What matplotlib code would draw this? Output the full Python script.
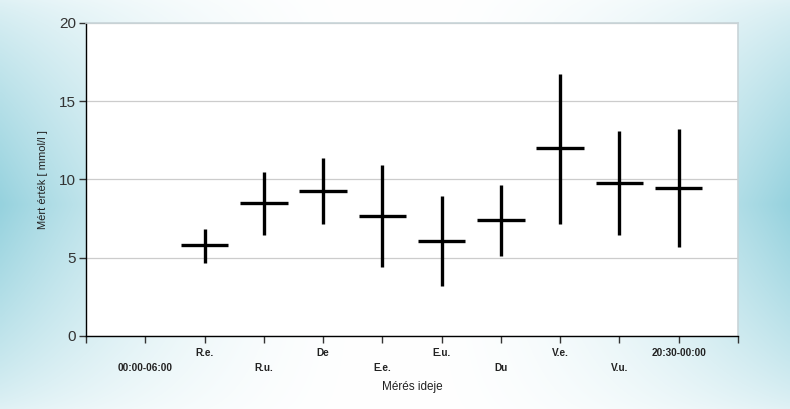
import numpy as np
import matplotlib
matplotlib.use("Agg")
import matplotlib.pyplot as plt

plt.rcParams['font.family'] = ['Liberation Sans', 'DejaVu Sans']

# Adatok
categories = ["00:00-06:00", "R.e.", "R.u.", "De", "E.e.", "E.u.", "Du", "V.e.", "V.u.", "20:30-00:00"]
means = [None, 5.8, 8.5, 9.25, 7.65, 6.05, 7.4, 12.0, 9.75, 9.45]
lows = [None, 4.68, 6.45, 7.15, 4.4, 3.2, 5.1, 7.15, 6.45, 5.7]
highs = [None, 6.85, 10.45, 11.35, 10.95, 8.95, 9.67, 16.75, 13.1, 13.25]

fig = plt.figure(figsize=(7.9, 4.09), dpi=100)

# háttér színátmenet
bg = fig.add_axes([0, 0, 1, 1], zorder=-1)
bg.set_axis_off()
xx, yy = np.meshgrid(np.linspace(0, 1, 400), np.linspace(0, 1, 200))
h = np.abs(xx - 0.5) * 2
v = np.clip(1 - np.abs(yy - 0.5) * 2.0, 0, 1) ** 0.8
w = (h ** 2.0) * (0.3 + 0.7 * v)
white = np.array([1.0, 1.0, 1.0])
cyan = np.array([150, 210, 222]) / 255
img = white[None, None, :] - (white - cyan)[None, None, :] * w[..., None]
bg.imshow(img, aspect='auto', extent=[0, 1, 0, 1], interpolation='bilinear')

ax = fig.add_axes([0.1089, 0.1785, 0.8253, 0.7653])
ax.set_facecolor('white')

for i, cat in enumerate(categories):
    if means[i] is None:
        continue
    x = i + 1
    ax.plot([x, x], [lows[i], highs[i]], color='black', lw=2.4, solid_capstyle='butt', zorder=3)
    ax.plot([x - 0.4, x + 0.4], [means[i], means[i]], color='black', lw=2.4, solid_capstyle='butt', zorder=3)

ax.set_xlim(0, 11)
ax.set_ylim(0, 20)
ax.set_yticks([0, 5, 10, 15, 20])
ax.yaxis.grid(True, color='#cccccc', lw=0.9)
ax.set_axisbelow(True)

ax.set_xticks(range(12), [''] + categories + [''])
for i, t in enumerate(ax.xaxis.get_major_ticks()):
    t.set_pad(14.5 if i % 2 == 1 else 3.5)
for lab in ax.get_xticklabels():
    lab.set_fontweight('bold')
    lab.set_fontsize(7.2)
    lab.set_color('#222222')

ax.tick_params(axis='y', labelsize=11, length=5, width=1, color='#333333', labelcolor='#333333', pad=2)
ax.tick_params(axis='x', length=5, width=1, color='#333333')

for s in ['left', 'bottom']:
    ax.spines[s].set_color('black')
    ax.spines[s].set_linewidth(1)
for s in ['top', 'right']:
    ax.spines[s].set_color('#c8d4d8')
    ax.spines[s].set_linewidth(1.2)

ax.set_ylabel('Mért érték [ mmol/l ]', fontsize=8, color='#222222', labelpad=8)
ax.set_xlabel('Mérés ideje', fontsize=8.5, color='#222222', labelpad=6)

fig.savefig('out.png', dpi=100)
